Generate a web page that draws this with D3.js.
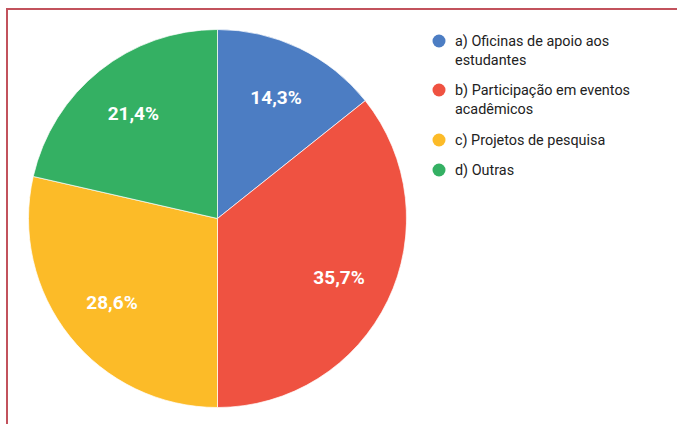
<!DOCTYPE html>
<html>
<head>
<meta charset="utf-8">
<script src="https://cdn.jsdelivr.net/npm/d3@7"></script>
<style>
  html, body { margin: 0; padding: 0; background: #fff; }
  svg { display: block; }
</style>
</head>
<body>
<svg id="chart" width="677" height="424"></svg>
<script>
const categories = [
  ["a) Oficinas de apoio aos", "estudantes"],
  ["b) Participação em eventos", "acadêmicos"],
  ["c) Projetos de pesquisa"],
  ["d) Outras"]
];
const values = [2, 5, 4, 3];
const colors = ["#4c7dc3", "#ef5241", "#fcbb28", "#34b063"];

const svg = d3.select("#chart");
const W = 677, H = 424;

// frame border
svg.append("path")
  .attr("d", `M7,${H} L7,9 L${W},9`)
  .attr("fill", "none")
  .attr("stroke", "#c2525c")
  .attr("stroke-width", 2);

const cx = 217.5, cy = 218.5, R = 189;
const total = d3.sum(values);
const pie = d3.pie().sort(null).value(d => d)(values);
const arc = d3.arc().innerRadius(0).outerRadius(R);
const labelArc = d3.arc().innerRadius(R * 0.714).outerRadius(R * 0.714);

const g = svg.append("g").attr("transform", `translate(${cx},${cy})`);
g.selectAll("path.slice").data(pie).enter().append("path")
  .attr("class", "slice")
  .attr("d", arc)
  .attr("fill", (d, i) => colors[i])
  .attr("stroke", "#fff")
  .attr("stroke-width", 0.7);

const fmt = v => (Math.round(v / total * 1000) / 10).toFixed(1).replace(".", ",") + "%";
g.selectAll("text.lbl").data(pie).enter().append("text")
  .attr("class", "lbl")
  .attr("transform", d => `translate(${labelArc.centroid(d)})`)
  .attr("text-anchor", "middle")
  .attr("dy", "0.36em")
  .attr("fill", "#fff")
  .attr("font-family", "Roboto, Arial, sans-serif")
  .attr("font-weight", "bold")
  .attr("font-size", 19)
  .text(d => fmt(d.value));

// legend
const legendY = [41, 90, 140, 170];
const lg = svg.append("g");
categories.forEach((lines, i) => {
  const y = legendY[i];
  lg.append("circle").attr("cx", 439).attr("cy", y).attr("r", 6.5).attr("fill", colors[i]);
  lines.forEach((t, j) => {
    lg.append("text")
      .attr("x", 455)
      .attr("y", y + j * 19)
      .attr("dy", "0.36em")
      .attr("font-family", "Roboto, Arial, sans-serif")
      .attr("font-size", 14.4)
      .attr("fill", "#222")
      .text(t);
  });
});
</script>
</body>
</html>
